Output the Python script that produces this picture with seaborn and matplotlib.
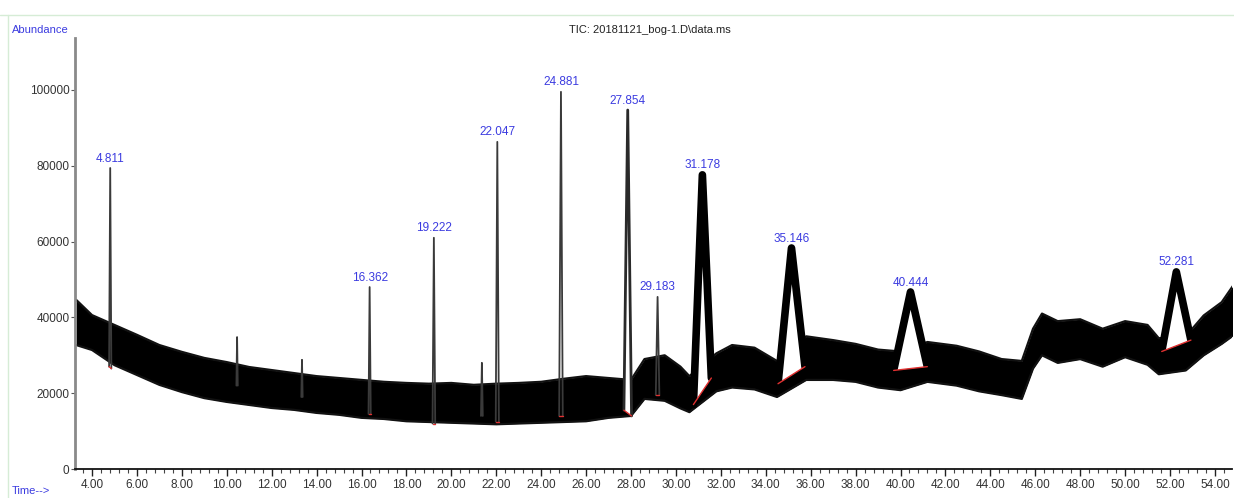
import matplotlib
matplotlib.use("Agg")
import matplotlib.pyplot as plt
import seaborn as sns
import pandas as pd
from matplotlib.ticker import MultipleLocator, FormatStrFormatter
from matplotlib.lines import Line2D

# ---- data ----
# noisy baseline envelope (retention time in min, abundance)
env_time = [3.3, 4.0, 5.0, 6.0, 7.0, 8.0, 9.0, 10.0, 11.0, 12.0, 13.0, 14.0, 15.0, 16.0,
            17.0, 18.0, 19.0, 20.0, 21.0, 22.0, 23.0, 24.0, 25.0, 26.0, 27.0, 28.0, 28.6,
            29.5, 30.2, 30.6, 31.8, 32.5, 33.5, 34.5, 35.8, 37.0, 38.0, 39.0, 40.0, 41.2,
            42.5, 43.5, 44.5, 45.4, 45.9, 46.3, 47.0, 48.0, 49.0, 50.0, 51.0, 51.5, 52.7,
            53.5, 54.3, 55.0]
env_upper = [44600, 40600, 38000, 35400, 32700, 30900, 29300, 28200, 26900, 26100, 25300,
             24500, 24000, 23500, 23000, 22700, 22500, 22700, 22200, 22500, 22700, 23000,
             23800, 24500, 24000, 23500, 29000, 30000, 27000, 24500, 30500, 32700, 32000,
             28500, 35000, 34000, 33000, 31500, 31000, 33500, 32500, 31000, 29000, 28500,
             37000, 41000, 39000, 39500, 37000, 39000, 38000, 34500, 35000, 40500, 44000,
             50000]
env_lower = [32700, 31400, 27400, 24800, 22200, 20300, 18700, 17700, 16900, 16100, 15600,
             14800, 14300, 13500, 13200, 12600, 12400, 12200, 12000, 11800, 12000, 12200,
             12400, 12600, 13500, 14000, 18500, 18000, 16000, 15000, 20500, 21500, 21000,
             19000, 23500, 23500, 23000, 21500, 20800, 23000, 22000, 20500, 19500, 18500,
             26500, 30000, 28000, 29000, 27000, 29500, 27500, 25000, 26000, 30000, 33000,
             36000]

# peaks: retention time, apex abundance, half width, integration baseline (left/right)
peak_rt = [4.811, 10.46, 13.35, 16.362, 19.222, 21.36, 22.047, 24.881, 27.854, 29.183,
           31.178, 35.146, 40.444, 52.281]
peak_apex = [79400, 34800, 28800, 48000, 61000, 28000, 86300, 99500, 94700, 45400,
             77600, 58300, 46700, 52000]
peak_hw = [0.05, 0.03, 0.03, 0.05, 0.06, 0.04, 0.07, 0.08, 0.17, 0.08, 0.40, 0.60, 0.75, 0.65]
peak_base_l = [27000, 22000, 19000, 14500, 12000, 14000, 12500, 14000, 15500, 19500,
               17000, 22500, 26000, 31000]
peak_base_r = [26500, 22000, 19000, 14500, 12000, 14000, 12500, 14000, 14000, 19500,
               24000, 27000, 27000, 34000]
peak_label = ["4.811", "", "", "16.362", "19.222", "", "22.047", "24.881", "27.854",
              "29.183", "31.178", "35.146", "40.444", "52.281"]

y_ticks = [0, 20000, 40000, 60000, 80000, 100000]

# ---- style ----
sns.set_style("white")
plt.rcParams['font.family'] = ['Liberation Sans Narrow', 'Liberation Sans', 'DejaVu Sans']

blue = '#3b3be0'
fig = plt.figure(figsize=(12.34, 4.98), dpi=100)
fig.patch.set_facecolor('white')
ax = fig.add_axes([75 / 1234, 29 / 498, (1232 - 75) / 1234, (469 - 38) / 498])

env = pd.DataFrame({'t': env_time, 'up': env_upper, 'lo': env_lower})
ax.fill_between(env['t'], env['lo'], env['up'], color='black', lw=0)
sns.lineplot(data=env, x='t', y='up', ax=ax, color='#111', lw=1.6, estimator=None)
sns.lineplot(data=env, x='t', y='lo', ax=ax, color='#111', lw=1.6, estimator=None)

for rt, ap, hw, bl, br, lab in zip(peak_rt, peak_apex, peak_hw, peak_base_l,
                                   peak_base_r, peak_label):
    xs = [rt - hw, rt, rt + hw]
    ys = [bl, ap, br]
    if hw >= 0.3:
        ax.fill(xs, ys, color='white', lw=0, zorder=3)
        ax.plot(xs, ys, color='black', lw=5.5, solid_joinstyle='round',
                solid_capstyle='round', zorder=4)
    elif hw >= 0.1:
        ax.fill(xs, ys, color='white', lw=0, zorder=3)
        ax.plot(xs, ys, color='#2a2a2a', lw=2.0, solid_joinstyle='round', zorder=4)
    else:
        ax.plot(xs, ys, color='#3a3a3a', lw=1.3, zorder=4)
    if lab:
        ax.plot([rt - hw, rt + hw], [bl, br], color='#e03030', lw=1.0, zorder=5)
        ax.annotate(lab, (rt, ap), xytext=(0, 2.5), textcoords='offset points',
                    ha='center', va='bottom', color=blue, fontsize=8.5)

ax.set_xlim(3.243, 54.76)
ax.set_ylim(0, 113700)
ax.set_xlabel('')
ax.set_ylabel('')

ax.xaxis.set_major_locator(MultipleLocator(2))
ax.xaxis.set_minor_locator(MultipleLocator(0.4))
ax.xaxis.set_major_formatter(FormatStrFormatter('%.2f'))
ax.set_yticks(y_ticks)
ax.set_yticklabels([str(v) for v in y_ticks])
ax.tick_params(axis='x', which='major', direction='out', length=5, width=1, colors='#222',
               labelsize=8.5, pad=2, bottom=True)
ax.tick_params(axis='x', which='minor', direction='out', length=3, width=0.8, colors='#444',
               bottom=True)
ax.tick_params(axis='y', which='major', direction='out', length=3, width=0.8, colors='#555',
               labelsize=8.5, pad=1, left=True)
for lab in ax.get_xticklabels() + ax.get_yticklabels():
    lab.set_color('#333')

for s in ['top', 'right']:
    ax.spines[s].set_visible(False)
ax.spines['left'].set_color('#8a8a8a')
ax.spines['left'].set_linewidth(2)
ax.spines['bottom'].set_color('#111')
ax.spines['bottom'].set_linewidth(1.3)

fig.text(12 / 1234, 1 - 30 / 498, 'Abundance', color=blue, fontsize=8, ha='left', va='center')
fig.text(12 / 1234, 1 - 491 / 498, 'Time-->', color=blue, fontsize=8, ha='left', va='center')
fig.text(650 / 1234, 1 - 30 / 498, 'TIC: 20181121_bog-1.D\\data.ms', color='#222',
         fontsize=8, ha='center', va='center')

# faint frame lines of the original screenshot
fig.add_artist(Line2D([0, 1], [1 - 15 / 498, 1 - 15 / 498], transform=fig.transFigure,
                      color='#d6ecd6', lw=1))
fig.add_artist(Line2D([8 / 1234, 8 / 1234], [0, 1 - 15 / 498], transform=fig.transFigure,
                      color='#d6ecd6', lw=1))

fig.savefig('out.png', dpi=100, facecolor='white')
